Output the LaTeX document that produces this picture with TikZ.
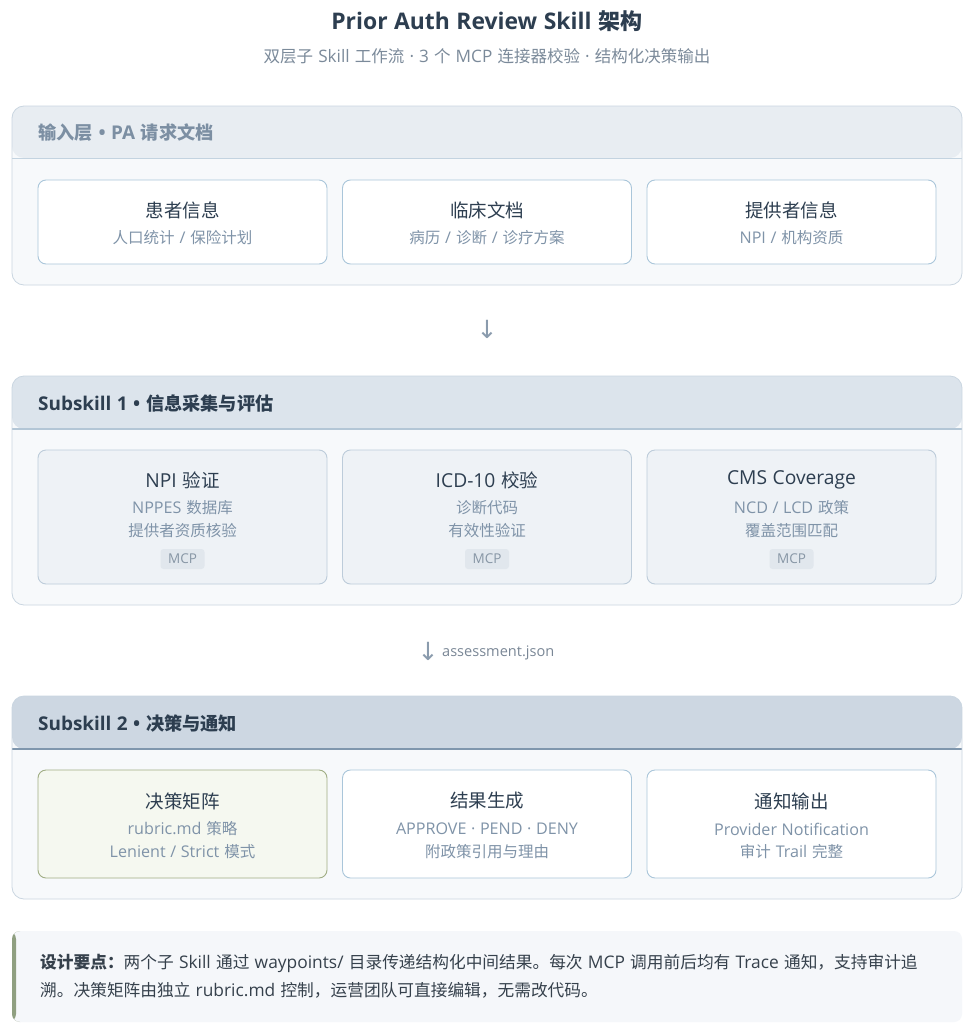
\documentclass[tikz,border=0pt]{standalone}
\usepackage{fontspec}
\setmainfont[WordSpace=1.4]{Noto Sans CJK SC}
\newfontfamily\enfont[Scale=1.04,WordSpace=1.1]{Open Sans}
\newcommand\eng[1]{{\enfont #1}}
\newfontfamily\arrowfont{DejaVu Sans}
\definecolor{titlec}{HTML}{2D3E50}
\definecolor{subc}{HTML}{7B8A9A}
\definecolor{panelbd}{HTML}{CAD6E1}
\definecolor{panelbg}{HTML}{F7F9FB}
\definecolor{hdrA}{HTML}{E8EDF2}
\definecolor{hdrB}{HTML}{DCE4EC}
\definecolor{hdrC}{HTML}{CDD7E2}
\definecolor{sepA}{HTML}{C3D3E0}
\definecolor{sepB}{HTML}{B3C6D6}
\definecolor{sepC}{HTML}{7F96AD}
\definecolor{hdrtxtA}{HTML}{7C8FA3}
\definecolor{cardbd}{HTML}{AAC6DA}
\definecolor{cardbdB}{HTML}{BDCCDA}
\definecolor{cardbgB}{HTML}{EEF2F6}
\definecolor{greenbd}{HTML}{A0AD84}
\definecolor{greenbg}{HTML}{F5F8F0}
\definecolor{cardsub}{HTML}{7F93A8}
\definecolor{tagbg}{HTML}{E1E7ED}
\definecolor{tagtxt}{HTML}{8796A5}
\definecolor{notebg}{HTML}{F5F7FA}
\definecolor{notebar}{HTML}{8F9F80}
\definecolor{notetxt}{HTML}{36414C}
\definecolor{arrowc}{HTML}{8A9BAD}
\definecolor{jsonc}{HTML}{7A8796}
\tikzset{
  panel/.style={rectangle, rounded corners=12pt, fill=panelbg, draw=panelbd, line width=0.8pt, outer sep=0pt, inner sep=0pt},
  cardbox/.style={rectangle, rounded corners=8pt, fill=white, draw=cardbd, line width=0.9pt, outer sep=0pt, minimum width=289pt, inner sep=0pt},
  cardboxB/.style={cardbox, fill=cardbgB, draw=cardbdB},
  cardboxG/.style={cardbox, fill=greenbg, draw=greenbd},
  hdrtext/.style={anchor=west, inner sep=0pt, font=\fontsize{18.2}{21}\selectfont\bfseries},
  ctitle/.style={inner sep=0pt, text=titlec, font=\fontsize{18.5}{22}\selectfont},
  csub/.style={inner sep=0pt, text=cardsub, font=\fontsize{15.5}{18}\selectfont},
  mcptag/.style={rectangle, rounded corners=3pt, fill=tagbg, text=tagtxt, minimum width=44pt, minimum height=20pt, inner sep=0pt, font=\enfont\fontsize{13}{15}\selectfont},
  arrowglyph/.style={inner sep=0pt, text=arrowc, font=\arrowfont\fontsize{25}{27}\selectfont},
}
\begin{document}
\begin{tikzpicture}[x=1pt,y=-1pt]
\useasboundingbox[fill=white] (0,0) rectangle (974,1036);

% Title
\node[inner sep=0pt, text=titlec, font=\fontsize{22}{25}\selectfont\bfseries] (title) at (487,21) {\eng{Prior Auth Review Skill} 架构};
\node[inner sep=0pt, text=subc, font=\fontsize{16.5}{19}\selectfont] (subtitle) at (487,56) {双层子 \eng{Skill} 工作流 \eng{· 3} 个 \eng{MCP} 连接器校验 \eng{·} 结构化决策输出};

% ===== Layer 1 =====
\node[panel, minimum width=950pt, minimum height=179pt,
  path picture={\fill[hdrA] (path picture bounding box.north west) rectangle ([yshift=-52pt]path picture bounding box.north east);
    \draw[sepA, line width=1pt] ([yshift=-52pt]path picture bounding box.north west) -- ([yshift=-52pt]path picture bounding box.north east);}]
  (L1) at (487,195.5) {};
\node[hdrtext, text=hdrtxtA] (L1h) at (38,133) {输入层 \eng{• PA} 请求文档};

\node[cardbox, minimum height=84pt] (c11) at (182.5,222) {};
\node[cardbox, minimum height=84pt] (c12) at (487,222) {};
\node[cardbox, minimum height=84pt] (c13) at (791.5,222) {};
\node[ctitle] (c11t) at (182.5,210) {患者信息};
\node[csub] (c11s) at (182.5,238) {人口统计 \eng{/} 保险计划};
\node[ctitle] (c12t) at (487,210) {临床文档};
\node[csub] (c12s) at (487,238) {病历 \eng{/} 诊断 \eng{/} 诊疗方案};
\node[ctitle] (c13t) at (791.5,210) {提供者信息};
\node[csub] (c13s) at (791.5,238) {\eng{NPI /} 机构资质};

% arrow 1
\node[arrowglyph] (a1) at (487,329) {↓};

% ===== Layer 2 =====
\node[panel, minimum width=950pt, minimum height=229pt,
  path picture={\fill[hdrB] (path picture bounding box.north west) rectangle ([yshift=-53pt]path picture bounding box.north east);
    \draw[sepB, line width=1.2pt] ([yshift=-53pt]path picture bounding box.north west) -- ([yshift=-53pt]path picture bounding box.north east);}]
  (L2) at (487,490.5) {};
\node[hdrtext, text=titlec] (L2h) at (38,404) {\eng{Subskill 1 •} 信息采集与评估};

\node[cardboxB, minimum height=134pt] (c21) at (182.5,517) {};
\node[cardboxB, minimum height=134pt] (c22) at (487,517) {};
\node[cardboxB, minimum height=134pt] (c23) at (791.5,517) {};
\node[ctitle] (c21t) at (182.5,480) {\eng{NPI} 验证};
\node[csub] (c21s) at (182.5,508) {\eng{NPPES} 数据库};
\node[csub] (c21u) at (182.5,531) {提供者资质核验};
\node[mcptag] (c21m) at (182.5,559) {MCP};
\node[ctitle] (c22t) at (487,480) {\eng{ICD-10} 校验};
\node[csub] (c22s) at (487,508) {诊断代码};
\node[csub] (c22u) at (487,531) {有效性验证};
\node[mcptag] (c22m) at (487,559) {MCP};
\node[ctitle] (c23t) at (791.5,480) {\eng{CMS Coverage}};
\node[csub] (c23s) at (791.5,508) {\eng{NCD / LCD} 政策};
\node[csub] (c23u) at (791.5,531) {覆盖范围匹配};
\node[mcptag] (c23m) at (791.5,559) {MCP};

% arrow 2
\node[arrowglyph] (a2) at (428,651) {↓};
\node[inner sep=0pt, anchor=west, text=jsonc, font=\enfont\fontsize{14}{16}\selectfont] (a2t) at (442,653) {assessment.json};

% ===== Layer 3 =====
\node[panel, minimum width=950pt, minimum height=203pt,
  path picture={\fill[hdrC] (path picture bounding box.north west) rectangle ([yshift=-53pt]path picture bounding box.north east);
    \draw[sepC, line width=1.2pt] ([yshift=-53pt]path picture bounding box.north west) -- ([yshift=-53pt]path picture bounding box.north east);}]
  (L3) at (487,797.5) {};
\node[hdrtext, text=titlec] (L3h) at (38,724) {\eng{Subskill 2 •} 决策与通知};

\node[cardboxG, minimum height=108pt] (c31) at (182.5,824) {};
\node[cardbox, minimum height=108pt] (c32) at (487,824) {};
\node[cardbox, minimum height=108pt] (c33) at (791.5,824) {};
\node[ctitle] (c31t) at (182.5,801) {决策矩阵};
\node[csub] (c31s) at (182.5,829) {\eng{rubric.md} 策略};
\node[csub] (c31u) at (182.5,852) {\eng{Lenient / Strict} 模式};
\node[ctitle] (c32t) at (487,801) {结果生成};
\node[csub] (c32s) at (487,829) {\eng{APPROVE · PEND · DENY}};
\node[csub] (c32u) at (487,852) {附政策引用与理由};
\node[ctitle] (c33t) at (791.5,801) {通知输出};
\node[csub] (c33s) at (791.5,829) {\eng{Provider Notification}};
\node[csub] (c33u) at (791.5,852) {审计 \eng{Trail} 完整};

% ===== Note =====
\node[rectangle, rounded corners=8pt, fill=notebg, minimum width=950pt, minimum height=91pt, inner sep=0pt, outer sep=0pt,
  path picture={\fill[notebar] (path picture bounding box.north west) rectangle ([xshift=4pt]path picture bounding box.south west);}]
  (note) at (487,976.5) {};
\node[inner sep=0pt, anchor=north west, align=left, text=notetxt, font=\fontsize{16.7}{28}\selectfont] (notet) at (40,954)
  {\textbf{设计要点：}两个子 \eng{Skill} 通过 \eng{waypoints/} 目录传递结构化中间结果。每次 \eng{MCP} 调用前后均有 \eng{Trace} 通知，支持审计追\\
   溯。决策矩阵由独立 \eng{rubric.md} 控制，运营团队可直接编辑，无需改代码。};
\end{tikzpicture}
\end{document}
